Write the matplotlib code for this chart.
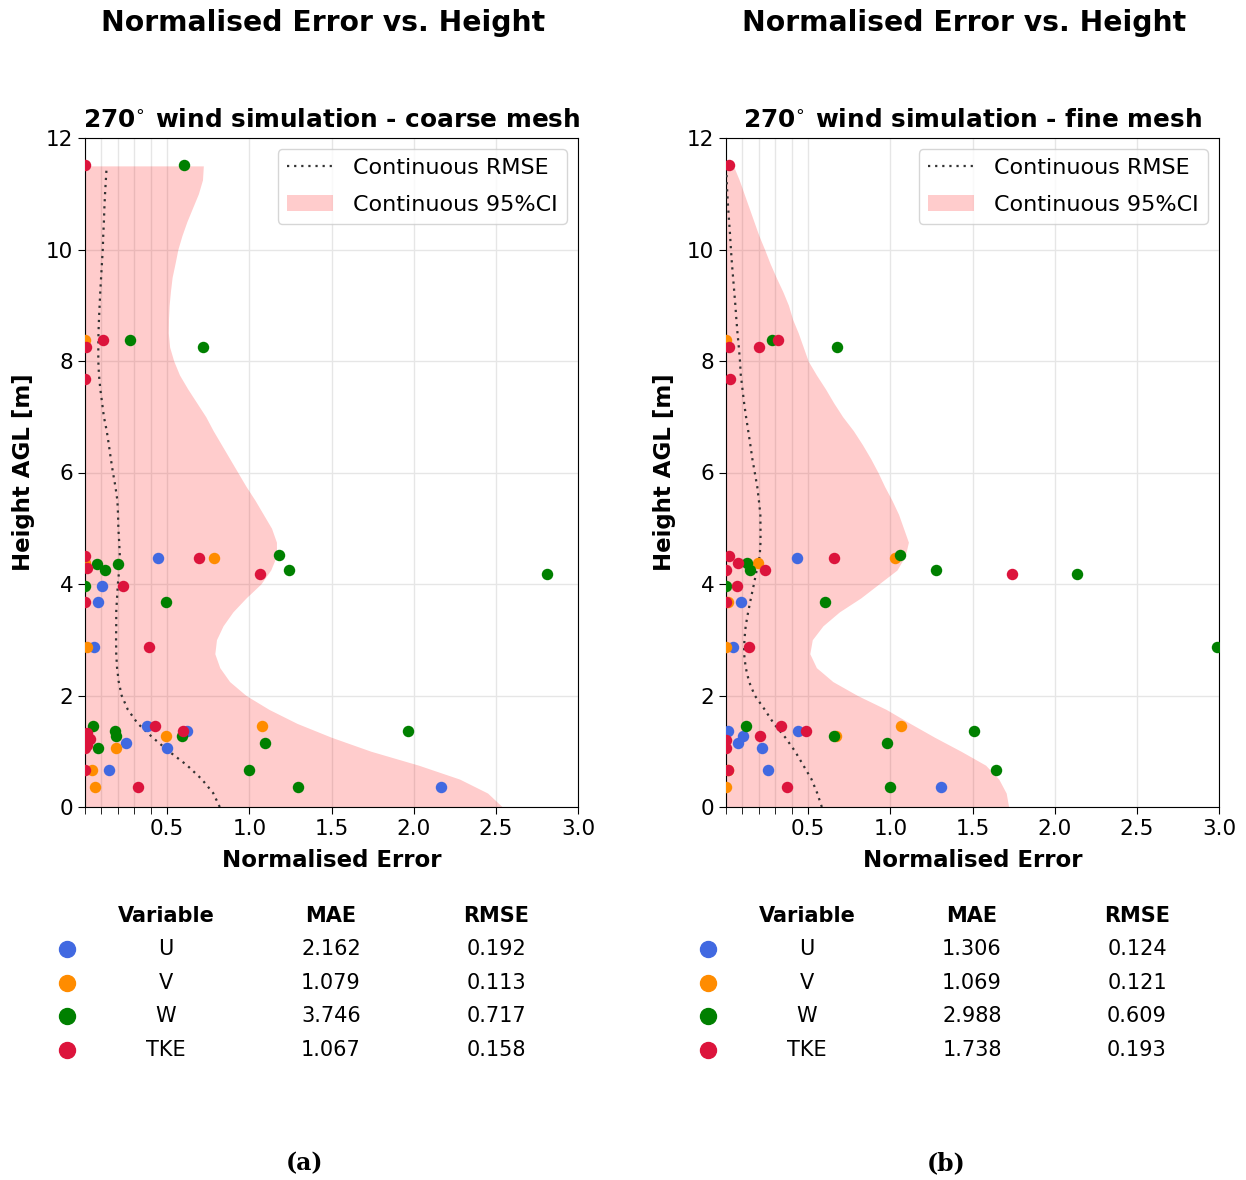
import numpy as np
import matplotlib
matplotlib.use("Agg")
import matplotlib.pyplot as plt
from matplotlib.lines import Line2D
from matplotlib.patches import Patch

# ---------------- data ----------------
variables = ["U", "V", "W", "TKE"]
var_colors = ["royalblue", "darkorange", "green", "crimson"]

mae_coarse = ["2.162", "1.079", "3.746", "1.067"]
rmse_coarse = ["0.192", "0.113", "0.717", "0.158"]
mae_fine = ["1.306", "1.069", "2.988", "1.738"]
rmse_fine = ["0.124", "0.121", "0.609", "0.193"]

# continuous profiles (height in m)
prof_h = [0.0, 0.25, 0.5, 0.75, 1.0, 1.25, 1.5, 1.75, 2.0, 2.25, 2.5, 2.75,
          3.0, 3.25, 3.5, 3.75, 4.0, 4.25, 4.5, 4.75, 5.0, 5.25, 5.5, 5.75,
          6.0, 6.25, 6.5, 6.75, 7.0, 7.25, 7.5, 7.75, 8.0, 8.25, 8.5, 8.75,
          9.0, 9.25, 9.5, 9.75, 10.0, 10.25, 10.5, 10.75, 11.0, 11.25, 11.5]
ci_coarse = [2.54, 2.45, 2.28, 2.03, 1.74, 1.50, 1.29, 1.12, 0.98, 0.88, 0.82, 0.79,
             0.80, 0.84, 0.90, 0.98, 1.07, 1.13, 1.165, 1.165, 1.135, 1.085, 1.035, 0.98,
             0.93, 0.88, 0.83, 0.78, 0.735, 0.68, 0.625, 0.575, 0.54, 0.515, 0.507, 0.508,
             0.512, 0.52, 0.53, 0.548, 0.565, 0.59, 0.62, 0.655, 0.69, 0.715, 0.72]
rmse_line_coarse = [0.82, 0.78, 0.71, 0.62, 0.51, 0.41, 0.32, 0.26, 0.223, 0.205, 0.195, 0.19,
                    0.189, 0.19, 0.19, 0.195, 0.20, 0.208, 0.212, 0.208, 0.203, 0.201, 0.197, 0.185,
                    0.17, 0.157, 0.145, 0.132, 0.115, 0.104, 0.093, 0.085, 0.081, 0.081, 0.082, 0.085,
                    0.089, 0.093, 0.098, 0.103, 0.108, 0.111, 0.115, 0.118, 0.122, 0.127, 0.132]
ci_fine = [1.72, 1.705, 1.66, 1.58, 1.43, 1.27, 1.12, 0.975, 0.80, 0.65, 0.55, 0.51,
           0.525, 0.59, 0.69, 0.82, 0.93, 1.04, 1.09, 1.11, 1.08, 1.05, 1.01, 0.965,
           0.925, 0.88, 0.83, 0.775, 0.71, 0.655, 0.605, 0.55, 0.50, 0.47, 0.44, 0.405,
           0.38, 0.345, 0.305, 0.268, 0.235, 0.20, 0.17, 0.14, 0.11, 0.08, 0.045]
rmse_line_fine = [0.583, 0.555, 0.52, 0.47, 0.42, 0.36, 0.29, 0.235, 0.175, 0.14, 0.12, 0.11,
                  0.112, 0.12, 0.135, 0.152, 0.17, 0.187, 0.205, 0.21, 0.21, 0.209, 0.20, 0.19,
                  0.175, 0.16, 0.148, 0.135, 0.122, 0.11, 0.10, 0.09, 0.085, 0.078, 0.07, 0.063,
                  0.057, 0.05, 0.043, 0.036, 0.03, 0.025, 0.019, 0.013, 0.008, 0.004, 0.002]

# scatter points: coarse mesh
coarse_U_x = [0.446, 0.104, 0.077, 0.055, 0.375, 0.62, 0.25, 0.501, 0.146, 2.167, 0.01]
coarse_U_y = [4.47, 3.97, 3.67, 2.87, 1.45, 1.37, 1.15, 1.06, 0.66, 0.36, 1.27]
coarse_V_x = [0.785, 0.01, 1.08, 0.493, 0.189, 0.04, 0.059, 0.0, 0.0]
coarse_V_y = [4.47, 2.87, 1.45, 1.27, 1.06, 0.66, 0.36, 8.37, 4.37]
coarse_W_x = [0.602, 0.274, 0.716, 1.18, 1.244, 2.81, 0.075, 0.124, 0.2, 0.0, 0.493,
              0.05, 1.968, 0.183, 0.189, 0.588, 1.097, 0.081, 0.998, 1.298]
coarse_W_y = [11.52, 8.37, 8.26, 4.52, 4.26, 4.18, 4.36, 4.26, 4.36, 3.97, 3.67,
              1.45, 1.37, 1.37, 1.27, 1.27, 1.15, 1.06, 0.66, 0.36]
coarse_T_x = [0.0, 0.112, 0.008, 0.0, 0.694, 1.065, 0.0, 0.01, 0.229, 0.0, 0.391,
              0.426, 0.598, 0.01, 0.03, 0.015, 0.0, 0.0, 0.323]
coarse_T_y = [11.52, 8.37, 8.26, 7.67, 4.47, 4.18, 4.5, 4.28, 3.97, 3.67, 2.87,
              1.45, 1.37, 1.33, 1.22, 1.12, 1.06, 0.66, 0.36]

# scatter points: fine mesh
fine_U_x = [0.434, 0.091, 0.04, 0.44, 0.105, 0.075, 0.221, 0.258, 1.307, 0.01]
fine_U_y = [4.47, 3.67, 2.87, 1.37, 1.27, 1.15, 1.06, 0.66, 0.36, 1.37]
fine_V_x = [0.0, 1.03, 0.197, 0.01, 0.0, 1.065, 0.67, 0.01, 0.0]
fine_V_y = [8.37, 4.47, 4.37, 3.67, 2.87, 1.45, 1.27, 0.66, 0.36]
fine_W_x = [0.278, 0.678, 1.061, 1.278, 2.136, 0.126, 0.146, 0.0, 0.603, 2.99,
            0.12, 1.509, 0.659, 0.982, 1.641, 0.998]
fine_W_y = [8.37, 8.26, 4.52, 4.26, 4.18, 4.37, 4.26, 3.97, 3.67, 2.87,
            1.45, 1.37, 1.27, 1.15, 0.66, 0.36]
fine_T_x = [0.02, 0.318, 0.02, 0.2, 0.024, 0.657, 1.743, 0.02, 0.075, 0.237, 0.0,
            0.069, 0.0, 0.14, 0.333, 0.487, 0.207, 0.0, 0.0, 0.01, 0.369]
fine_T_y = [11.52, 8.37, 8.26, 8.26, 7.67, 4.47, 4.18, 4.5, 4.37, 4.26, 4.26,
            3.97, 3.67, 2.87, 1.45, 1.37, 1.27, 1.2, 1.06, 0.66, 0.36]

titles = ["270$^{\\circ}$ wind simulation - coarse mesh",
          "270$^{\\circ}$ wind simulation - fine mesh"]
captions = ["(a)", "(b)"]
x_major = [0.5, 1.0, 1.5, 2.0, 2.5, 3.0]
x_minor = [0.0, 0.1, 0.2, 0.3, 0.4]
y_ticks = [0, 2, 4, 6, 8, 10, 12]

# ---------------- figure ----------------
W, H = 1246, 1180
fig = plt.figure(figsize=(W / 100, H / 100), dpi=100)

panels = [
    dict(ci=ci_coarse, rl=rmse_line_coarse,
         pts=[(coarse_U_x, coarse_U_y), (coarse_V_x, coarse_V_y),
              (coarse_W_x, coarse_W_y), (coarse_T_x, coarse_T_y)],
         mae=mae_coarse, rmse=rmse_coarse),
    dict(ci=ci_fine, rl=rmse_line_fine,
         pts=[(fine_U_x, fine_U_y), (fine_V_x, fine_V_y),
              (fine_W_x, fine_W_y), (fine_T_x, fine_T_y)],
         mae=mae_fine, rmse=rmse_fine),
]

dot_style = (0, (1, 2.2))
offset_px = 641
for i, p in enumerate(panels):
    x0 = 85 + i * offset_px
    ax = fig.add_axes([x0 / W, (H - 807) / H, 493 / W, 669 / H])
    ax.fill_betweenx(prof_h, 0, p["ci"], color="red", alpha=0.2, linewidth=0,
                     zorder=1)
    ax.plot(p["rl"], prof_h, linestyle=dot_style, color="#333333",
            linewidth=1.6, zorder=3)
    for (xs, ys), c in zip(p["pts"], var_colors):
        ax.scatter(xs, ys, s=68, color=c, zorder=4, linewidths=0)
    ax.set_xlim(0, 3.0)
    ax.set_ylim(0, 12)
    ax.set_xticks(x_major)
    ax.set_xticks(x_minor, minor=True)
    ax.set_yticks(y_ticks)
    ax.tick_params(axis="both", labelsize=15.5, length=5)
    ax.tick_params(axis="x", which="minor", length=5)
    ax.grid(True, which="major", color="#e6e6e6", linewidth=1.0, zorder=0)
    ax.grid(True, which="minor", axis="x", color="#e6e6e6", linewidth=1.0, zorder=0)
    ax.set_axisbelow(True)
    ax.set_xlabel("Normalised Error", fontsize=16.5, fontweight="bold", labelpad=7)
    ax.set_ylabel("Height AGL [m]", fontsize=16.5, fontweight="bold", labelpad=8)
    ax.set_title(titles[i], fontsize=17.8, fontweight="bold", pad=8)
    handles = [Line2D([0], [0], linestyle=dot_style, color="#333333", linewidth=1.6),
               Patch(facecolor="red", alpha=0.2, edgecolor="none")]
    ax.legend(handles, ["Continuous RMSE", "Continuous 95%CI"], loc="upper right",
              fontsize=16, handlelength=2.1, handletextpad=0.9, borderpad=0.4,
              labelspacing=0.75, framealpha=0.8, borderaxespad=0.5)

    fig.text((323 + i * offset_px) / W, 1 - 23 / H, "Normalised Error vs. Height",
             ha="center", va="center", fontsize=20.3, fontweight="bold")

    col_x = [166, 331, 496]
    for cx, lab in zip(col_x, ["Variable", "MAE", "RMSE"]):
        fig.text((cx + i * offset_px) / W, 1 - 916 / H, lab,
                 ha="center", va="center", fontsize=15, fontweight="bold")
    row_y = [949, 983, 1016, 1050]
    for j, v in enumerate(variables):
        yy = 1 - row_y[j] / H
        for cx, val in zip(col_x, [v, p["mae"][j], p["rmse"][j]]):
            fig.text((cx + i * offset_px) / W, yy, val, ha="center", va="center",
                     fontsize=15)
        fig.lines.append(Line2D([(67 + i * offset_px) / W], [yy], marker="o",
                                markersize=11.5, color=var_colors[j], linestyle="none",
                                transform=fig.transFigure, figure=fig))

    fig.text((305 + i * offset_px) / W, 1 - 1163 / H, captions[i], ha="center",
             va="center", fontsize=17, fontweight="bold", family="DejaVu Serif")

fig.savefig("out.png", dpi=100)
